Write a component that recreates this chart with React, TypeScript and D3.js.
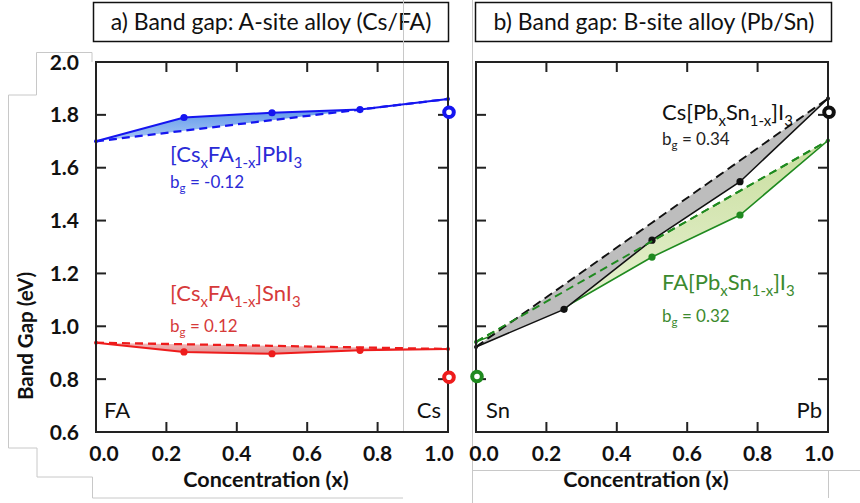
import React from "react";
import * as d3 from "d3";

const xs = [0, 0.25, 0.5, 0.75, 1.0];
const pbA = [1.70, 1.79, 1.808, 1.82, 1.86]; // [CsxFA1-x]PbI3
const snA = [0.938, 0.903, 0.896, 0.909, 0.914]; // [CsxFA1-x]SnI3
const csB = [0.922, 1.064, 1.326, 1.547, 1.862]; // Cs[PbxSn1-x]I3
const faB = [0.941, 1.07, 1.262, 1.421, 1.703]; // FA[PbxSn1-x]I3
// reference (open ring) markers
const ringsA = [{ x: 1.0, y: 1.81, c: "#1515f0" }, { x: 1.0, y: 0.807, c: "#ee1c1c" }];
const ringsB = [{ x: 1.0, y: 1.81, c: "#111" }, { x: 0.0, y: 0.81, c: "#1f8a1f" }];
const yTicks = [0.6, 0.8, 1.0, 1.2, 1.4, 1.6, 1.8, 2.0];
const xTicks = [0.0, 0.2, 0.4, 0.6, 0.8, 1.0];

const FONT = "Lato, 'Open Sans', sans-serif";

const y = d3.scaleLinear().domain([0.6, 2.0]).range([432, 62]);
const xA = d3.scaleLinear().domain([0, 1]).range([96, 448]);
const xB = d3.scaleLinear().domain([0, 1]).range([476, 828]);

type Pt = { x: number; v: number; d: number };

function Series({ x, vals, color, fill, width, dash }: any) {
  const n = vals.length;
  const pts: Pt[] = xs.map((xx, i) => ({
    x: xx,
    v: vals[i],
    d: vals[0] + (vals[n - 1] - vals[0]) * xx,
  }));
  const area = d3.area<Pt>().x((p) => x(p.x)).y0((p) => y(p.d)).y1((p) => y(p.v));
  const line = d3.line<Pt>().x((p) => x(p.x)).y((p) => y(p.v));
  const dline = d3.line<Pt>().x((p) => x(p.x)).y((p) => y(p.d));
  return (
    <g>
      <path d={area(pts) || ""} fill={fill} stroke="none" />
      <path d={dline(pts) || ""} fill="none" stroke={color} strokeWidth={width + 0.3} strokeDasharray={dash} />
      <path d={line(pts) || ""} fill="none" stroke={color} strokeWidth={width} />
      {pts.map((p, i) => (
        <circle key={i} cx={x(p.x)} cy={y(p.v)} r={i === 0 || i === n - 1 ? 2 : 3.6} fill={color} />
      ))}
    </g>
  );
}

function Frame({ x }: any) {
  const [x0, x1] = x.range();
  const [y0, y1] = [y(0.6), y(2.0)];
  const L = 10;
  return (
    <g stroke="#222" strokeWidth={2} fill="none">
      <rect x={x0} y={y1} width={x1 - x0} height={y0 - y1} />
      {xTicks.slice(1, -1).map((t) => (
        <g key={"x" + t}>
          <line x1={x(t)} x2={x(t)} y1={y0} y2={y0 - L} />
          <line x1={x(t)} x2={x(t)} y1={y1} y2={y1 + L} />
        </g>
      ))}
      {yTicks.slice(1, -1).map((t) => (
        <g key={"y" + t}>
          <line x1={x0} x2={x0 + L} y1={y(t)} y2={y(t)} />
          <line x1={x1} x2={x1 - L} y1={y(t)} y2={y(t)} />
        </g>
      ))}
    </g>
  );
}

function XLabels({ x }: any) {
  return (
    <g fontFamily={FONT} fontWeight="bold" fontSize={21} fill="#111" textAnchor="middle">
      {xTicks.map((t, i) => (
        <text key={t} x={x(t) + (i === 0 ? 8 : i === xTicks.length - 1 ? -9 : 0)} y={461}>
          {t.toFixed(1)}
        </text>
      ))}
      <text x={(x.range()[0] + x.range()[1]) / 2 - 6} y={487} fontSize={21.5}>
        Concentration (x)
      </text>
    </g>
  );
}

function Formula({ x0, yb, parts, color, size }: any) {
  // parts: array of [text, isSub]
  let prevSub = false;
  const off = size * 0.25;
  return (
    <text x={x0} y={yb} fill={color} fontFamily={FONT} fontSize={size}>
      {parts.map((p: [string, boolean], i: number) => {
        const dy = p[1] && !prevSub ? off : !p[1] && prevSub ? -off : 0;
        prevSub = p[1];
        return (
          <tspan key={i} dy={dy} fontSize={p[1] ? size * 0.68 : size}>
            {p[0]}
          </tspan>
        );
      })}
    </text>
  );
}

export default function App() {
  const grey = "#c8c8c8";
  return (
    <svg width={860} height={503} style={{ position: "absolute", left: 0, top: 0, background: "#fff" }}>
      {/* faint composition borders */}
      <g stroke={grey} strokeWidth={1} fill="none">
        <path d="M92,62 L92,52.5 L36.5,52.5 L36.5,95 L8.5,95 L8.5,448 L37,448 L37,477 L92.5,477 L92.5,498 L403,498" />
        <line x1={403.5} x2={403.5} y1={0} y2={432} />
        <line x1={472.5} x2={472.5} y1={0} y2={503} />
        <path d="M472.5,470.5 L860,470.5 M828.5,470.5 L828.5,498" />
      </g>

      {/* panel titles */}
      <rect x={93.5} y={2.5} width={355} height={39} fill="#fff" stroke="#111" strokeWidth={1.5} />
      <text x={271} y={30} textAnchor="middle" fontFamily={FONT} fontSize={23} fill="#111">
        a) Band gap: A-site alloy (Cs/FA)
      </text>
      <rect x={475.5} y={2.5} width={356} height={39} fill="#fff" stroke="#111" strokeWidth={1.5} />
      <text x={654} y={30} textAnchor="middle" fontFamily={FONT} fontSize={23} fill="#111">
        b) Band gap: B-site alloy (Pb/Sn)
      </text>
      <line x1={403.5} x2={403.5} y1={0} y2={62} stroke={grey} strokeWidth={1} />

      <defs>
        <linearGradient id="gBlue" x1="0" y1="0" x2="0" y2="1">
          <stop offset="0" stopColor="#4a88e8" />
          <stop offset="1" stopColor="#a9c9f4" />
        </linearGradient>
        <linearGradient id="gRed" x1="0" y1="0" x2="0" y2="1">
          <stop offset="0" stopColor="#f2bcbc" />
          <stop offset="1" stopColor="#e09292" />
        </linearGradient>
        <linearGradient id="gGreen" x1="0" y1="0" x2="0" y2="1">
          <stop offset="0" stopColor="#c8de9e" />
          <stop offset="1" stopColor="#eef5dc" />
        </linearGradient>
      </defs>

      {/* y axis labels */}
      <g fontFamily={FONT} fontWeight="bold" fontSize={21} fill="#111" textAnchor="end">
        {yTicks.map((t) => (
          <text key={t} x={79} y={y(t) + 7.5}>
            {t.toFixed(1)}
          </text>
        ))}
      </g>
      <text
        transform={`translate(33,${336}) rotate(-90)`}
        textAnchor="middle"
        fontFamily={FONT}
        fontWeight="bold"
        fontSize={20.5}
        fill="#111"
      >
        Band Gap (eV)
      </text>

      {/* Panel a */}
      <Series x={xA} vals={pbA} color="#1515f0" fill="url(#gBlue)" width={2} dash="8,5" />
      <Series x={xA} vals={snA} color="#ee1c1c" fill="url(#gRed)" width={2} dash="8,5" />
      <Frame x={xA} />
      {ringsA.map((r, i) => (
        <circle key={i} cx={xA(r.x) + 1} cy={y(r.y)} r={4.8} fill="#fff" stroke={r.c} strokeWidth={4} />
      ))}
      <XLabels x={xA} />
      <Formula
        x0={170}
        yb={162}
        color="#2b2bd6"
        size={22}
        parts={[["[Cs", false], ["x", true], ["FA", false], ["1-x", true], ["]PbI", false], ["3", true]]}
      />
      <Formula x0={170} yb={188} color="#2b2bd6" size={17} parts={[["b", false], ["g", true], [" = -0.12", false]]} />
      <Formula
        x0={170}
        yb={301}
        color="#d63a3a"
        size={22}
        parts={[["[Cs", false], ["x", true], ["FA", false], ["1-x", true], ["]SnI", false], ["3", true]]}
      />
      <Formula x0={170} yb={332} color="#d63a3a" size={17} parts={[["b", false], ["g", true], [" = 0.12", false]]} />
      <text x={104} y={418} fontFamily={FONT} fontSize={22} fill="#111">FA</text>
      <text x={441} y={418} textAnchor="end" fontFamily={FONT} fontSize={22} fill="#111">Cs</text>

      {/* Panel b */}
      <Series x={xB} vals={faB} color="#1f8a1f" fill="url(#gGreen)" width={1.6} dash="8,5" />
      <Series x={xB} vals={csB} color="#111" fill="#bdbdbd" width={1.6} dash="9,5" />
      <path
        d={d3.line<number>().x((_, i) => xB(xs[i])).y((v, i) => y(faB[0] + (faB[faB.length - 1] - faB[0]) * xs[i]))(faB) || ""}
        fill="none"
        stroke="#1f8a1f"
        strokeWidth={1.9}
        strokeDasharray="8,5"
      />
      <Frame x={xB} />
      {ringsB.map((r, i) => (
        <circle key={i} cx={xB(r.x) + 1} cy={y(r.y)} r={4.8} fill="#fff" stroke={r.c} strokeWidth={4} />
      ))}
      <XLabels x={xB} />
      <Formula
        x0={662}
        yb={120}
        color="#111"
        size={22}
        parts={[["Cs[Pb", false], ["x", true], ["Sn", false], ["1-x", true], ["]I", false], ["3", true]]}
      />
      <Formula x0={662} yb={145} color="#222" size={17} parts={[["b", false], ["g", true], [" = 0.34", false]]} />
      <Formula
        x0={662}
        yb={290}
        color="#3b8a2e"
        size={22}
        parts={[["FA[Pb", false], ["x", true], ["Sn", false], ["1-x", true], ["]I", false], ["3", true]]}
      />
      <Formula x0={662} yb={322} color="#3b8a2e" size={17} parts={[["b", false], ["g", true], [" = 0.32", false]]} />
      <text x={486} y={418} fontFamily={FONT} fontSize={22} fill="#111">Sn</text>
      <text x={822} y={418} textAnchor="end" fontFamily={FONT} fontSize={22} fill="#111">Pb</text>
    </svg>
  );
}
